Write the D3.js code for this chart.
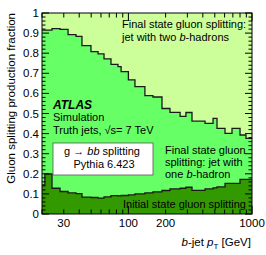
<!DOCTYPE html>
<html>
<head>
<meta charset="utf-8">
<script src="https://cdn.jsdelivr.net/npm/d3@7"></script>
<style>
  body { margin: 0; background: #fff; }
  svg { display: block; font-family: "Liberation Sans", Arial, Helvetica, sans-serif; }
</style>
</head>
<body>
<svg id="chart"></svg>
<script>
// bin edges in b-jet pT [GeV]
const binEdges = [20, 21.1, 24.1, 28, 32.5, 37.7, 42.1, 49.8, 56.8, 63.5, 72.3, 82.4, 87.3, 100,
                  113, 136, 158, 187, 217, 262, 292, 327, 417, 484, 521, 605, 689, 800, 894, 1000];

// initial state gluon splitting fraction (bottom band)
const initialState = [0.145, 0.199, 0.128, 0.112, 0.105, 0.101, 0.084, 0.082, 0.079, 0.085, 0.091,
                      0.090, 0.092, 0.095, 0.100, 0.105, 0.110, 0.117, 0.125, 0.128, 0.133, 0.118,
                      0.125, 0.130, 0.135, 0.152, 0.152, 0.172, 0.172];

// initial + final state with one b-hadron (cumulative, top of middle band)
const cumulOneB = [0.915, 0.915, 0.922, 0.919, 0.892, 0.884, 0.838, 0.808, 0.797, 0.772, 0.744,
                   0.733, 0.708, 0.667, 0.634, 0.589, 0.582, 0.525, 0.506, 0.486, 0.505, 0.462,
                   0.451, 0.476, 0.426, 0.401, 0.426, 0.393, 0.376];

const xTickLabels = [30, 100, 200, 1000];
const yTickLabels = [0, 0.1, 0.2, 0.3, 0.4, 0.5, 0.6, 0.7, 0.8, 0.9, 1];

const colors = { twoB: "#ccff99", oneB: "#66ff66", initial: "#339900", line: "#1a1a1a" };

const W = 266, H = 255;
const margin = { left: 42, right: 14, top: 13, bottom: 41 };
const width = W - margin.left - margin.right;
const height = H - margin.top - margin.bottom;

const svg = d3.select("#chart").attr("width", W).attr("height", H);
const chart = svg.append("g").attr("transform", `translate(${margin.left},${margin.top})`);

const x = d3.scaleLog().domain([20, 1000]).range([0, width]);
const y = d3.scaleLinear().domain([0, 1]).range([height, 0]);

// step points: value of bin i starts at edge i, last edge repeats last value
const steps = vals => binEdges.map((e, i) => ({ e, v: vals[Math.min(i, vals.length - 1)] }));
const lowPts = steps(initialState);
const upPts = steps(cumulOneB);

const bands = [
  { lo: () => 1, hi: d => d.v, pts: upPts, color: colors.twoB },
  { lo: (d, i) => lowPts[i].v, hi: d => d.v, pts: upPts, color: colors.oneB },
  { lo: () => 0, hi: d => d.v, pts: lowPts, color: colors.initial }
];

bands.forEach(b => {
  chart.append("path")
    .datum(b.pts)
    .attr("fill", b.color)
    .attr("d", d3.area()
      .curve(d3.curveStepAfter)
      .x(d => x(d.e))
      .y0((d, i) => y(b.lo(d, i)))
      .y1(d => y(b.hi(d))));
});

const stepLine = d3.line().curve(d3.curveStepAfter).x(d => x(d.e)).y(d => y(d.v));
[lowPts, upPts].forEach(pts => {
  chart.append("path")
    .datum(pts)
    .attr("fill", "none")
    .attr("stroke", colors.line)
    .attr("stroke-width", 1.3)
    .attr("d", stepLine);
});

// frame
chart.append("rect")
  .attr("width", width).attr("height", height)
  .attr("fill", "none").attr("stroke", "#000").attr("stroke-width", 1);

// y ticks (inward both sides)
const yMinor = y.ticks(50);
yMinor.forEach(t => {
  const major = yTickLabels.some(v => Math.abs(v - t) < 1e-6);
  const len = major ? 7 : 3.5;
  chart.append("line").attr("x1", 0).attr("x2", len).attr("y1", y(t)).attr("y2", y(t)).attr("stroke", "#000");
  chart.append("line").attr("x1", width).attr("x2", width - len).attr("y1", y(t)).attr("y2", y(t)).attr("stroke", "#000");
});
yTickLabels.forEach(t => {
  chart.append("text")
    .attr("x", -3).attr("y", y(t) + 4)
    .attr("text-anchor", "end").attr("font-size", 11.5)
    .text(t === 0 || t === 1 ? String(t) : t.toFixed(1));
});

// x ticks (log)
x.ticks().forEach(t => {
  const major = t === 100 || t === 1000;
  const len = major ? 8 : 4.5;
  chart.append("line").attr("x1", x(t)).attr("x2", x(t)).attr("y1", height).attr("y2", height - len).attr("stroke", "#000");
  chart.append("line").attr("x1", x(t)).attr("x2", x(t)).attr("y1", 0).attr("y2", len).attr("stroke", "#000");
});
xTickLabels.forEach(t => {
  chart.append("text")
    .attr("x", x(t)).attr("y", height + 13)
    .attr("text-anchor", "middle").attr("font-size", 11.5)
    .text(t);
});

// axis titles
svg.append("text")
  .attr("transform", "translate(15,13) rotate(-90)")
  .attr("text-anchor", "end").attr("font-size", 11.5)
  .text("Gluon splitting production fraction");

const xt = svg.append("text")
  .attr("x", 251).attr("y", 246)
  .attr("text-anchor", "end").attr("font-size", 11.5);
xt.append("tspan").attr("font-style", "italic").text("b");
xt.append("tspan").text("-jet ");
xt.append("tspan").attr("font-style", "italic").text("p");
xt.append("tspan").attr("font-size", 8).attr("dy", 3).text("T");
xt.append("tspan").attr("dy", -3).text(" [GeV]");

// annotations
const fs = 11;
const t1 = svg.append("text").attr("x", 122).attr("y", 28).attr("font-size", fs).text("Final state gluon splitting:");
const t2 = svg.append("text").attr("x", 122).attr("y", 41).attr("font-size", fs);
t2.append("tspan").text("jet with two ");
t2.append("tspan").attr("font-style", "italic").text("b");
t2.append("tspan").text("-hadrons");

svg.append("text").attr("x", 165).attr("y", 154).attr("font-size", fs).text("Final state gluon");
svg.append("text").attr("x", 165).attr("y", 166).attr("font-size", fs).text("splitting: jet with");
const t3 = svg.append("text").attr("x", 165).attr("y", 178).attr("font-size", fs);
t3.append("tspan").text("one ");
t3.append("tspan").attr("font-style", "italic").text("b");
t3.append("tspan").text("-hadron");

svg.append("text").attr("x", 123).attr("y", 208).attr("font-size", fs).text("Initial state gluon splitting");

svg.append("text").attr("x", 53).attr("y", 109).attr("font-size", 12)
  .attr("font-weight", "bold").attr("font-style", "italic").text("ATLAS");
svg.append("text").attr("x", 53).attr("y", 121).attr("font-size", fs).text("Simulation");
svg.append("text").attr("x", 53).attr("y", 134).attr("font-size", fs).text("Truth jets, \u221As= 7 TeV");

// legend box
svg.append("rect")
  .attr("x", 53).attr("y", 143).attr("width", 100).attr("height", 32)
  .attr("fill", "#fff").attr("stroke", "#555").attr("stroke-width", 0.8);
const g1 = svg.append("text").attr("x", 102).attr("y", 155).attr("text-anchor", "middle").attr("font-size", fs);
g1.append("tspan").text("g \u2192 ");
g1.append("tspan").attr("font-style", "italic").text("bb");
g1.append("tspan").text(" splitting");
svg.append("text").attr("x", 104).attr("y", 168).attr("text-anchor", "middle").attr("font-size", fs).text("Pythia 6.423");
</script>
</body>
</html>
